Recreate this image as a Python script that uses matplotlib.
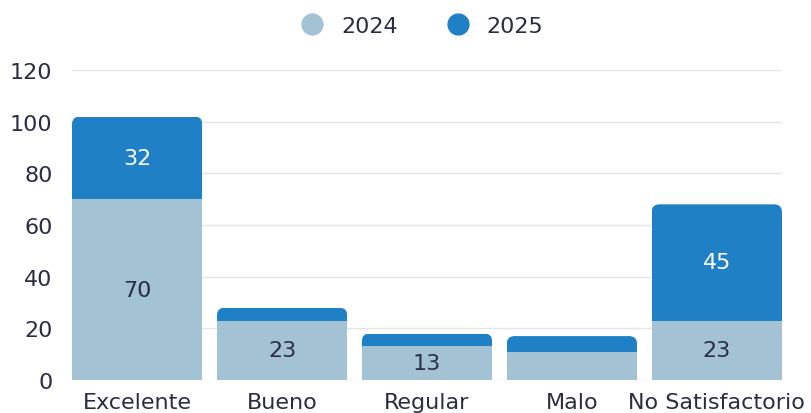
import matplotlib
matplotlib.use("Agg")
import matplotlib.pyplot as plt
from matplotlib.patches import FancyBboxPatch
from matplotlib.lines import Line2D

categories = ["Excelente", "Bueno", "Regular", "Malo", "No Satisfactorio"]
values_2024 = [70, 23, 13, 11, 23]
values_2025 = [32, 5, 5, 6, 45]
series_names = ["2024", "2025"]
y_ticks = [0, 20, 40, 60, 80, 100, 120]

c2024 = "#a3c3d5"
c2025 = "#1f80c6"
text_c = "#2b2d42"

plt.rcParams['font.family'] = ['DejaVu Sans']
FS = 16

W, H = 812, 414
fig = plt.figure(figsize=(W / 100, H / 100), dpi=100)
left, right, bottom, top = 72, 782, 381, 71
ax = fig.add_axes([left / W, (H - bottom) / H, (right - left) / W, (bottom - top) / H])

x = list(range(len(categories)))
bw = 0.9
ax.set_xlim(-bw / 2, len(categories) - 1 + bw / 2)
ax.set_ylim(0, 120)

b1 = ax.bar(x, values_2024, width=bw, color=c2024, zorder=2)
b2 = ax.bar(x, values_2025, width=bw, bottom=values_2024, color=c2025, zorder=2)

# rounded top corners
px_per_x = (right - left) / (len(categories) - 1 + bw)
px_per_y = (bottom - top) / 120
r_px = 8
rx = r_px / px_per_x
aspect = px_per_x / px_per_y
for rect in b2.patches:
    x0, y0 = rect.get_x(), rect.get_y()
    w, h = rect.get_width(), rect.get_height()
    clip = FancyBboxPatch((x0, y0 - 20), w, h + 20,
                          boxstyle=f"round,pad=0,rounding_size={rx}",
                          mutation_aspect=aspect, transform=ax.transData,
                          facecolor="none", edgecolor="none")
    rect.set_clip_path(clip)

for i in x:
    v1, v2 = values_2024[i], values_2025[i]
    if v1 >= 12:
        ax.text(i, v1 / 2, str(v1), ha="center", va="center", fontsize=FS, color=text_c, zorder=3)
    if v2 >= 12:
        ax.text(i, v1 + v2 / 2, str(v2), ha="center", va="center", fontsize=FS, color="white", zorder=3)

ax.set_yticks(y_ticks)
ax.set_xticks(x)
ax.set_xticklabels(categories)
ax.tick_params(axis="both", length=0, labelsize=FS, colors=text_c)
ax.tick_params(axis="y", pad=14)
ax.tick_params(axis="x", pad=8.5)
ax.grid(axis="y", color="#e5e5e5", linewidth=1, zorder=0)
ax.set_axisbelow(True)
for s in ax.spines.values():
    s.set_visible(False)

handles = [Line2D([], [], marker="o", linestyle="", markersize=15, color=c)
           for c in (c2024, c2025)]
fig.legend(handles, series_names, loc="center", bbox_to_anchor=(0.513, 0.935),
           ncol=2, frameon=False, fontsize=FS, handletextpad=0.3, columnspacing=1.7,
           labelcolor=text_c)

fig.savefig("out.png", dpi=100)
